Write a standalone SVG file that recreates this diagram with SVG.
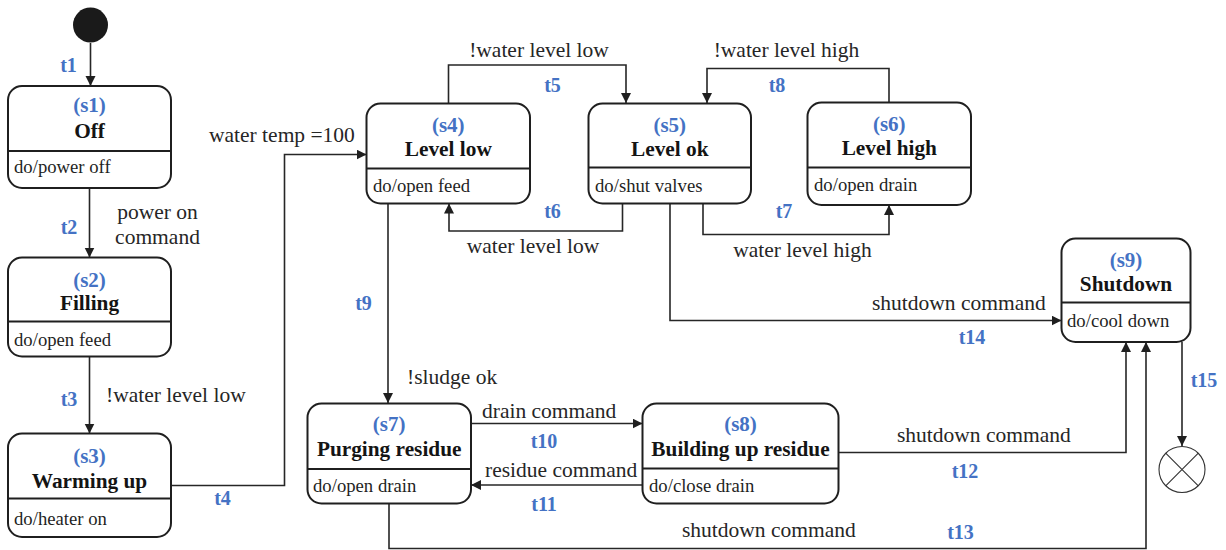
<svg xmlns="http://www.w3.org/2000/svg" width="1226" height="550" viewBox="0 0 1226 550">
  <style>
    text { font-family: "Liberation Serif", "Times New Roman", serif; fill: #1f1f1f; }
    .box { fill: #ffffff; stroke: #1f1f1f; stroke-width: 2; }
    .div { stroke: #1f1f1f; stroke-width: 1.8; }
    .id { font-size: 21px; font-weight: bold; fill: #4472c4; text-anchor: middle; }
    .name { font-size: 21.3px; font-weight: bold; fill: #141414; text-anchor: middle; }
    .act { font-size: 18.7px; }
    .lbl { font-size: 21.5px; fill: #262626; }
    .t { font-size: 20px; font-weight: bold; fill: #4472c4; text-anchor: middle; }
    .edge { fill: none; stroke: #262626; stroke-width: 1.6; marker-end: url(#arrow); }
  </style>
  <defs>
    <marker id="arrow" markerUnits="userSpaceOnUse" markerWidth="11" markerHeight="11" refX="10" refY="5" orient="auto">
      <path d="M0,0 L10,5 L0,10 z" fill="#1f1f1f"/>
    </marker>
  </defs>

  <rect width="1226" height="550" fill="#ffffff"/>

  <!-- transitions -->
  <g id="connectors">
    <path class="edge" d="M90.5 43 V86"/>
    <path class="edge" d="M89.5 188 V257.5"/>
    <path class="edge" d="M89.5 356.5 V433.5"/>
    <path class="edge" d="M171 485.5 H284.5 V154.5 H366.5"/>
    <path class="edge" d="M448.5 103.5 V65 H626 V103"/>
    <path class="edge" d="M622.5 203.5 V231 H449 V203.5"/>
    <path class="edge" d="M703 203.5 V234.5 H889 V205"/>
    <path class="edge" d="M889 102.5 V68.5 H707 V103"/>
    <path class="edge" d="M388 203.5 V403"/>
    <path class="edge" d="M471 423.5 H642.5"/>
    <path class="edge" d="M642.5 485 H471"/>
    <path class="edge" d="M838.5 452.5 H1126 V342"/>
    <path class="edge" d="M389 503.5 V548.5 H1146 V342"/>
    <path class="edge" d="M670 203.5 V320.5 H1061.5"/>
    <path class="edge" d="M1182 342 V446"/>

    <text class="t" x="68.5" y="72">t1</text>
    <text class="t" x="69" y="234">t2</text>
    <text class="t" x="69" y="406">t3</text>
    <text class="t" x="222.5" y="505">t4</text>
    <text class="t" x="552.5" y="92">t5</text>
    <text class="t" x="552.5" y="218">t6</text>
    <text class="t" x="784" y="218">t7</text>
    <text class="t" x="777" y="92">t8</text>
    <text class="t" x="363.5" y="310">t9</text>
    <text class="t" x="544" y="448">t10</text>
    <text class="t" x="544" y="511">t11</text>
    <text class="t" x="965" y="478">t12</text>
    <text class="t" x="960.5" y="539">t13</text>
    <text class="t" x="972" y="344">t14</text>
    <text class="t" x="1204" y="387">t15</text>

    <text class="lbl" x="157.5" y="219" text-anchor="middle">power on</text>
    <text class="lbl" x="157.5" y="244" text-anchor="middle">command</text>
    <text class="lbl" x="106" y="402">!water level low</text>
    <text class="lbl" x="209" y="142">water temp =100</text>
    <text class="lbl" x="539" y="57" text-anchor="middle">!water level low</text>
    <text class="lbl" x="533" y="253" text-anchor="middle">water level low</text>
    <text class="lbl" x="786.5" y="57" text-anchor="middle">!water level high</text>
    <text class="lbl" x="802.5" y="257" text-anchor="middle">water level high</text>
    <text class="lbl" x="407" y="384">!sludge ok</text>
    <text class="lbl" x="482" y="418">drain command</text>
    <text class="lbl" x="485" y="477">residue command</text>
    <text class="lbl" x="897" y="442">shutdown command</text>
    <text class="lbl" x="682" y="537">shutdown command</text>
    <text class="lbl" x="872" y="310">shutdown command</text>
  </g>

  <!-- pseudo states -->
  <g id="initial">
    <circle cx="90.5" cy="25" r="17.5" fill="#1a1a1a"/>
  </g>
  <g id="final">
    <circle cx="1182" cy="469.5" r="23" fill="#ffffff" stroke="#333333" stroke-width="1.1"/>
    <path d="M1165.7 453.2 L1198.3 485.8 M1198.3 453.2 L1165.7 485.8" stroke="#333333" stroke-width="1.1"/>
  </g>

  <!-- states -->
  <g id="s1">
    <rect class="box" x="8" y="86" width="163" height="102" rx="14"/>
    <line class="div" x1="8" y1="151" x2="171" y2="151"/>
    <text class="id" x="89.5" y="112">(s1)</text>
    <text class="name" x="89.5" y="138">Off</text>
    <text class="act" x="14" y="173">do/power off</text>
  </g>
  <g id="s2">
    <rect class="box" x="8" y="257.5" width="163" height="99" rx="14"/>
    <line class="div" x1="8" y1="321.5" x2="171" y2="321.5"/>
    <text class="id" x="89.5" y="286.5">(s2)</text>
    <text class="name" x="89.5" y="310">Filling</text>
    <text class="act" x="14" y="346">do/open feed</text>
  </g>
  <g id="s3">
    <rect class="box" x="8" y="433.5" width="163" height="103.5" rx="14"/>
    <line class="div" x1="8" y1="498.5" x2="171" y2="498.5"/>
    <text class="id" x="89.5" y="463">(s3)</text>
    <text class="name" x="89.5" y="488">Warming up</text>
    <text class="act" x="14" y="525">do/heater on</text>
  </g>
  <g id="s4">
    <rect class="box" x="366.5" y="103.5" width="163.5" height="100" rx="14"/>
    <line class="div" x1="366.5" y1="168.5" x2="530" y2="168.5"/>
    <text class="id" x="448.3" y="131.5">(s4)</text>
    <text class="name" x="448.3" y="156">Level low</text>
    <text class="act" x="373" y="191.5">do/open feed</text>
  </g>
  <g id="s5">
    <rect class="box" x="588.5" y="103.5" width="162.5" height="100" rx="14"/>
    <line class="div" x1="588.5" y1="167.5" x2="751" y2="167.5"/>
    <text class="id" x="669.8" y="131.5">(s5)</text>
    <text class="name" x="669.8" y="156">Level ok</text>
    <text class="act" x="595" y="191.5">do/shut valves</text>
  </g>
  <g id="s6">
    <rect class="box" x="807.5" y="102.5" width="163.5" height="102.5" rx="14"/>
    <line class="div" x1="807.5" y1="167.5" x2="971" y2="167.5"/>
    <text class="id" x="889.3" y="131">(s6)</text>
    <text class="name" x="889.3" y="155">Level high</text>
    <text class="act" x="814" y="191">do/open drain</text>
  </g>
  <g id="s7">
    <rect class="box" x="307.5" y="403.5" width="163.5" height="100" rx="14"/>
    <line class="div" x1="307.5" y1="469" x2="471" y2="469"/>
    <text class="id" x="389.2" y="431">(s7)</text>
    <text class="name" x="389.2" y="456">Purging residue</text>
    <text class="act" x="313" y="491.5">do/open drain</text>
  </g>
  <g id="s8">
    <rect class="box" x="642.5" y="403.5" width="196" height="100" rx="14"/>
    <line class="div" x1="642.5" y1="468.5" x2="838.5" y2="468.5"/>
    <text class="id" x="740.5" y="431">(s8)</text>
    <text class="name" x="740.5" y="456">Building up residue</text>
    <text class="act" x="649" y="491.5">do/close drain</text>
  </g>
  <g id="s9">
    <rect class="box" x="1061.5" y="238.5" width="129" height="103.5" rx="14"/>
    <line class="div" x1="1061.5" y1="302.5" x2="1190.5" y2="302.5"/>
    <text class="id" x="1126" y="266.5">(s9)</text>
    <text class="name" x="1126" y="291">Shutdown</text>
    <text class="act" x="1067" y="326.5">do/cool down</text>
  </g>
</svg>
